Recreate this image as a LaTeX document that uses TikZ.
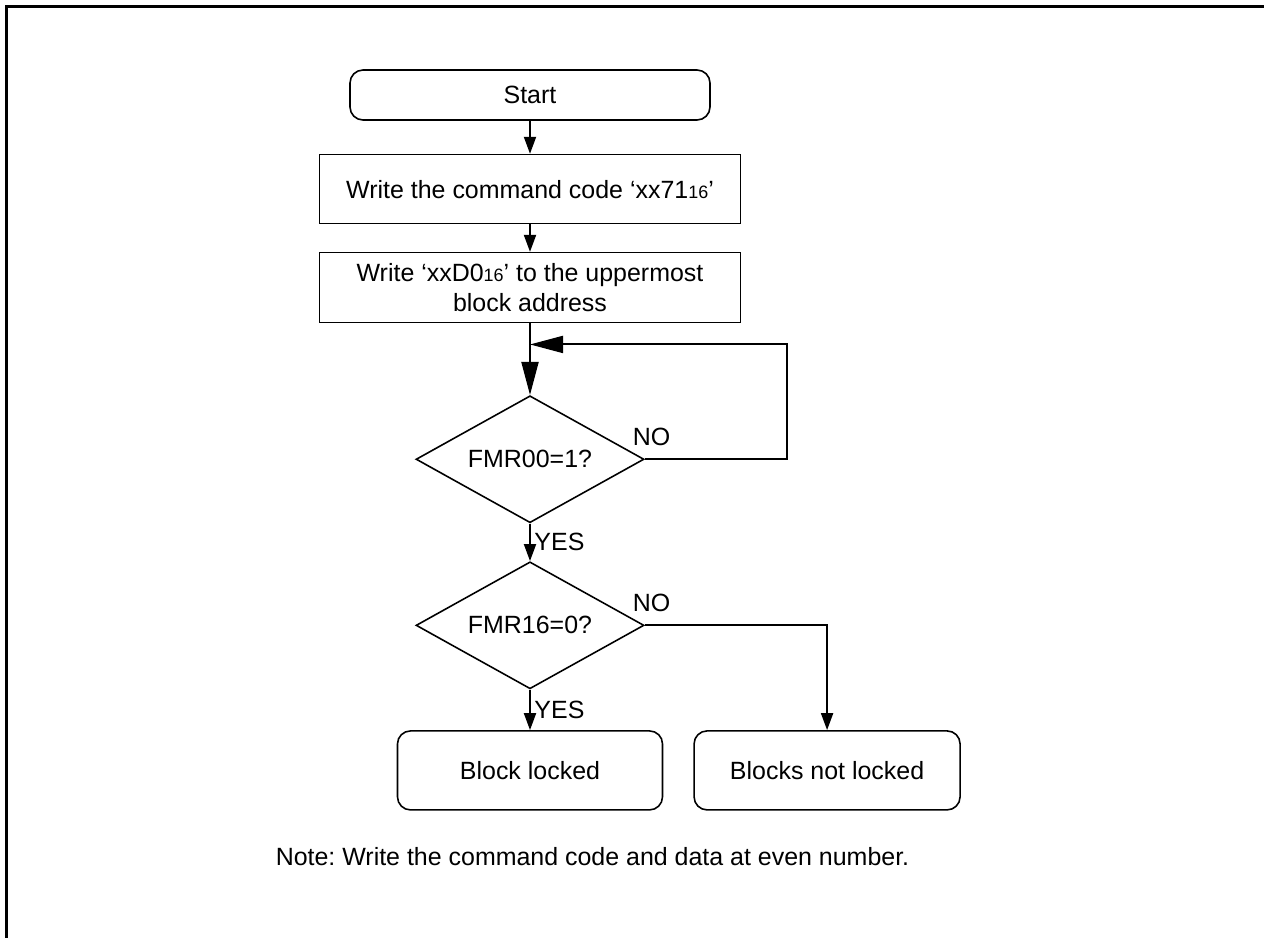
\documentclass[tikz,border=0pt]{standalone}
\usepackage{fontspec}
\setmainfont{Liberation Sans}
\usetikzlibrary{arrows.meta, positioning, shapes.geometric}
\newcommand{\radix}[1]{{\fontsize{10.2}{11}\selectfont #1}}
\frenchspacing

\tikzset{
  termbox/.style={rectangle, draw, rounded corners=0.26cm, line width=0.9pt, align=center, inner sep=0pt},
  stepbox/.style={rectangle, draw, line width=0.9pt, align=center, inner sep=0pt, minimum width=8.42cm},
  testbox/.style={diamond, draw, line width=0.9pt, aspect=1.8, inner sep=0pt, minimum width=4.56cm, minimum height=2.54cm},
  flow/.style={line width=1.1pt, -{Triangle[length=0.34cm, width=0.24cm]}},
  bigflow/.style={line width=1.1pt, -{Triangle[length=0.66cm, width=0.34cm]}},
  answer/.style={inner sep=0pt, anchor=south west, xshift=-0.26cm, yshift=0.26cm},
  frame/.style={line width=1.7pt},
}

\begin{document}
\begin{tikzpicture}[font=\fontsize{14.2}{17}\selectfont]
\useasboundingbox (0,0) rectangle (25.28,-18.76);

% --- page frame (top and left only) ---
\draw[frame] (25.28,-0.13) -- (0.13,-0.13) -- (0.13,-18.76);

% --- Start ---
\node[termbox, minimum width=7.2cm, minimum height=1.0cm] (start) at (10.6,-1.9) {Start};

% --- Commands ---
\node[stepbox, minimum height=1.38cm, below=0.66cm of start] (cmd)
{Write the command code ‘xx71\radix{16}’};

\node[stepbox, minimum height=1.4cm, below=0.55cm of cmd] (addr)
{Write ‘xxD0\radix{16}’ to the uppermost\\block address};

% --- Checks ---
\node[testbox, below=1.43cm of addr] (ready) {FMR00=1?};
\node[testbox, below=0.75cm of ready] (lockbit) {FMR16=0?};

% --- Results ---
\node[termbox, minimum width=5.3cm, minimum height=1.58cm, below=0.81cm of lockbit] (locked)
{Block locked};
\node[termbox, minimum width=5.32cm, minimum height=1.58cm, right=0.6cm of locked] (unlocked)
{Blocks not locked};

\node[below=0.62cm of locked.south, xshift=1.25cm] (note)
{Note: Write the command code and data at even number.};

% --- Arrows ---
\coordinate[below=0.42cm of addr] (merge);
\coordinate[right=2.84cm of ready.east] (turn);

\draw[flow] (start.south) -- (cmd.north);
\draw[flow] (cmd.south) -- (addr.north);
\draw[bigflow] (addr.south) -- (ready.north);

\draw[bigflow] (ready.east) node[answer]{NO} -- (turn) |- (merge);

\draw[flow] (ready.south) --
    node[midway, right, inner sep=2pt]{YES}
    (lockbit.north);

\draw[flow] (lockbit.south) --
    node[midway, right, inner sep=2pt]{YES}
    (locked.north);

\draw[flow] (lockbit.east) node[answer]{NO} -| (unlocked.north);

\end{tikzpicture}
\end{document}
